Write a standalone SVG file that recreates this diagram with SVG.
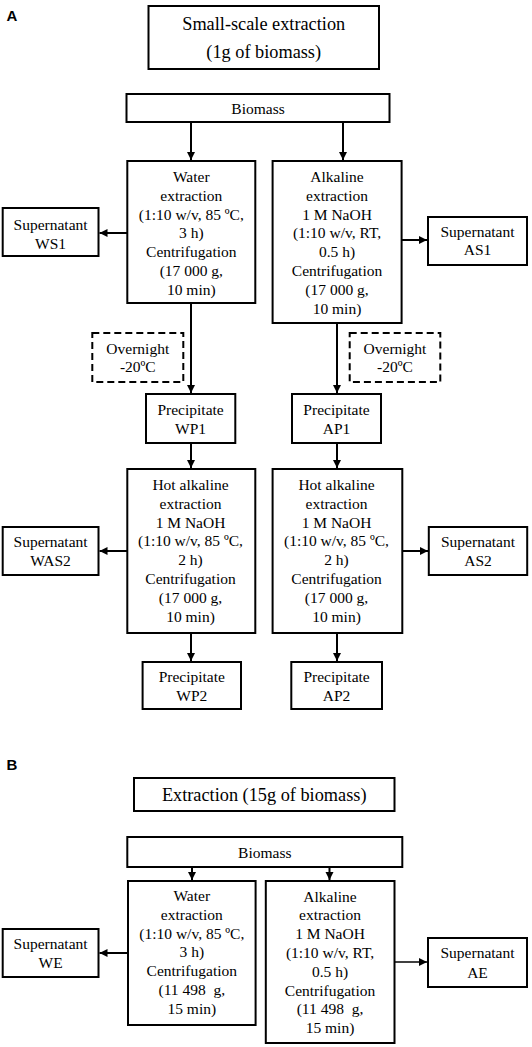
<svg xmlns="http://www.w3.org/2000/svg" width="532" height="1047" viewBox="0 0 532 1047">
<style>
.bg{fill:#fff}
.box{fill:#fff;stroke:#000;stroke-width:2}
.dash{fill:#fff;stroke:#000;stroke-width:2;stroke-dasharray:7,4}
.t{font-family:"Liberation Serif","Times New Roman",serif;font-size:15.5px;fill:#000;text-anchor:middle}
.tt{font-family:"Liberation Serif","Times New Roman",serif;font-size:18.3px;fill:#000;text-anchor:middle}
.lbl{font-family:"Liberation Sans",Arial,sans-serif;font-size:15px;font-weight:bold;fill:#000}
.c{stroke:#000;stroke-width:2;fill:none;marker-end:url(#ah)}
.c2{stroke:#000;stroke-width:1.4;fill:none;marker-end:url(#ah)}
</style>
<defs>
<marker id="ah" markerUnits="userSpaceOnUse" markerWidth="9" markerHeight="9" refX="8" refY="4" orient="auto">
<path d="M0,0 L8,4 L0,8 z" fill="#000"/>
</marker>
</defs>
<rect class="bg" x="0" y="0" width="532" height="1047"/>

<text class="lbl" x="6.5" y="21">A</text>
<text class="lbl" x="6.5" y="770">B</text>

<g id="connectors">
<line class="c" x1="191" y1="122" x2="191" y2="160"/>
<line class="c" x1="343" y1="122" x2="343" y2="160"/>
<line class="c" x1="127" y1="233" x2="99.5" y2="233"/>
<line class="c" x1="402" y1="240" x2="427" y2="240"/>
<line class="c" x1="191" y1="303" x2="191" y2="393"/>
<line class="c" x1="337" y1="323" x2="337" y2="393"/>
<line class="c" x1="191" y1="443" x2="191" y2="468"/>
<line class="c" x1="337" y1="443" x2="337" y2="468"/>
<line class="c" x1="127" y1="551" x2="99.5" y2="551"/>
<line class="c" x1="402" y1="551" x2="428" y2="551"/>
<line class="c" x1="191" y1="633" x2="191" y2="661"/>
<line class="c" x1="337" y1="633" x2="337" y2="661"/>
<line class="c" x1="192" y1="867" x2="192" y2="880"/>
<line class="c" x1="329.5" y1="867" x2="329.5" y2="880"/>
<line class="c" x1="128" y1="953" x2="99.5" y2="953"/>
<line class="c2" x1="394.5" y1="962" x2="427" y2="962"/>
</g>

<g id="titleA">
<rect class="box" x="148.5" y="6" width="230.5" height="63"/>
<text class="tt" x="263.7" y="29.5">Small-scale extraction</text>
<text class="tt" x="263.7" y="58">(1g of biomass)</text>
</g>

<g id="biomassA">
<rect class="box" x="126.5" y="94" width="263" height="28"/>
<text class="t" x="258" y="113.5">Biomass</text>
</g>

<g id="waterA">
<rect class="box" x="127.3" y="161" width="128" height="142"/>
<text class="t" x="191.3" y="182">Water</text>
<text class="t" x="191.3" y="200.8">extraction</text>
<text class="t" x="191.3" y="219.6">(1:10 w/v, 85 ºC,</text>
<text class="t" x="191.3" y="238.4">3 h)</text>
<text class="t" x="191.3" y="257.2">Centrifugation</text>
<text class="t" x="191.3" y="276">(17 000 g,</text>
<text class="t" x="191.3" y="294.8">10 min)</text>
</g>

<g id="alkA">
<rect class="box" x="272.6" y="161" width="129" height="162"/>
<text class="t" x="337" y="182">Alkaline</text>
<text class="t" x="337" y="200.8">extraction</text>
<text class="t" x="337" y="219.6">1 M NaOH</text>
<text class="t" x="337" y="238.4">(1:10 w/v, RT,</text>
<text class="t" x="337" y="257.2">0.5 h)</text>
<text class="t" x="337" y="276">Centrifugation</text>
<text class="t" x="337" y="294.8">(17 000 g,</text>
<text class="t" x="337" y="313.6">10 min)</text>
</g>

<g id="ws1">
<rect class="box" x="2.7" y="208" width="95.8" height="48"/>
<text class="t" x="50.6" y="230">Supernatant</text>
<text class="t" x="50.6" y="248.5">WS1</text>
</g>

<g id="as1">
<rect class="box" x="428" y="217" width="99" height="48"/>
<text class="t" x="477.5" y="236.5">Supernatant</text>
<text class="t" x="477.5" y="255">AS1</text>
</g>

<g id="overnightW">
<rect class="dash" x="92.3" y="333" width="91" height="49"/>
<text class="t" x="137.8" y="354">Overnight</text>
<text class="t" x="137.8" y="372">-20ºC</text>
</g>

<g id="overnightA">
<rect class="dash" x="349.7" y="333" width="90.6" height="49"/>
<text class="t" x="395" y="354">Overnight</text>
<text class="t" x="395" y="372">-20ºC</text>
</g>

<g id="wp1">
<rect class="box" x="146" y="394" width="89.3" height="49"/>
<text class="t" x="190.6" y="415">Precipitate</text>
<text class="t" x="190.6" y="433.5">WP1</text>
</g>

<g id="ap1">
<rect class="box" x="292" y="394" width="89" height="49"/>
<text class="t" x="336.5" y="415">Precipitate</text>
<text class="t" x="336.5" y="433.5">AP1</text>
</g>

<g id="hotW">
<rect class="box" x="127.3" y="469" width="128" height="164"/>
<text class="t" x="190.5" y="490">Hot alkaline</text>
<text class="t" x="190.5" y="508.8">extraction</text>
<text class="t" x="190.5" y="527.6">1 M NaOH</text>
<text class="t" x="190.5" y="546.4">(1:10 w/v, 85 ºC,</text>
<text class="t" x="190.5" y="565.2">2 h)</text>
<text class="t" x="190.5" y="584">Centrifugation</text>
<text class="t" x="190.5" y="602.8">(17 000 g,</text>
<text class="t" x="190.5" y="621.6">10 min)</text>
</g>

<g id="hotA">
<rect class="box" x="272.6" y="469" width="129.7" height="164"/>
<text class="t" x="336.5" y="490">Hot alkaline</text>
<text class="t" x="336.5" y="508.8">extraction</text>
<text class="t" x="336.5" y="527.6">1 M NaOH</text>
<text class="t" x="336.5" y="546.4">(1:10 w/v, 85 ºC,</text>
<text class="t" x="336.5" y="565.2">2 h)</text>
<text class="t" x="336.5" y="584">Centrifugation</text>
<text class="t" x="336.5" y="602.8">(17 000 g,</text>
<text class="t" x="336.5" y="621.6">10 min)</text>
</g>

<g id="was2">
<rect class="box" x="2.7" y="527" width="95.8" height="48"/>
<text class="t" x="50.6" y="546.5">Supernatant</text>
<text class="t" x="50.6" y="565.5">WAS2</text>
</g>

<g id="as2">
<rect class="box" x="428.8" y="527" width="98.4" height="48"/>
<text class="t" x="478" y="546.5">Supernatant</text>
<text class="t" x="478" y="565.5">AS2</text>
</g>

<g id="wp2">
<rect class="box" x="142.6" y="662" width="98.4" height="47"/>
<text class="t" x="191.8" y="682">Precipitate</text>
<text class="t" x="191.8" y="701">WP2</text>
</g>

<g id="ap2">
<rect class="box" x="291.3" y="662" width="90.7" height="47"/>
<text class="t" x="336.6" y="682">Precipitate</text>
<text class="t" x="336.6" y="701">AP2</text>
</g>

<g id="titleB">
<rect class="box" x="134" y="778" width="260.5" height="33"/>
<text class="tt" x="264.2" y="801">Extraction (15g of biomass)</text>
</g>

<g id="biomassB">
<rect class="box" x="127.3" y="837" width="275" height="30"/>
<text class="t" x="264.8" y="857.5">Biomass</text>
</g>

<g id="waterB">
<rect class="box" x="128" y="881" width="127.6" height="144"/>
<text class="t" x="191.8" y="901">Water</text>
<text class="t" x="191.8" y="919.8">extraction</text>
<text class="t" x="191.8" y="938.6">(1:10 w/v, 85 ºC,</text>
<text class="t" x="191.8" y="957.4">3 h)</text>
<text class="t" x="191.8" y="976.2">Centrifugation</text>
<text class="t" x="191.8" y="995" xml:space="preserve">(11 498  g,</text>
<text class="t" x="191.8" y="1013.8">15 min)</text>
</g>

<g id="alkB">
<rect class="box" x="265.8" y="881" width="128.7" height="162"/>
<text class="t" x="330" y="901.5">Alkaline</text>
<text class="t" x="330" y="920.3">extraction</text>
<text class="t" x="330" y="939.1">1 M NaOH</text>
<text class="t" x="330" y="957.9">(1:10 w/v, RT,</text>
<text class="t" x="330" y="976.7">0.5 h)</text>
<text class="t" x="330" y="995.5">Centrifugation</text>
<text class="t" x="330" y="1014.3" xml:space="preserve">(11 498  g,</text>
<text class="t" x="330" y="1033.1">15 min)</text>
</g>

<g id="we">
<rect class="box" x="2.7" y="929" width="95.8" height="48"/>
<text class="t" x="50.6" y="949">Supernatant</text>
<text class="t" x="50.6" y="968">WE</text>
</g>

<g id="ae">
<rect class="box" x="428" y="938" width="99" height="49"/>
<text class="t" x="477.5" y="958">Supernatant</text>
<text class="t" x="477.5" y="977.5">AE</text>
</g>
</svg>
